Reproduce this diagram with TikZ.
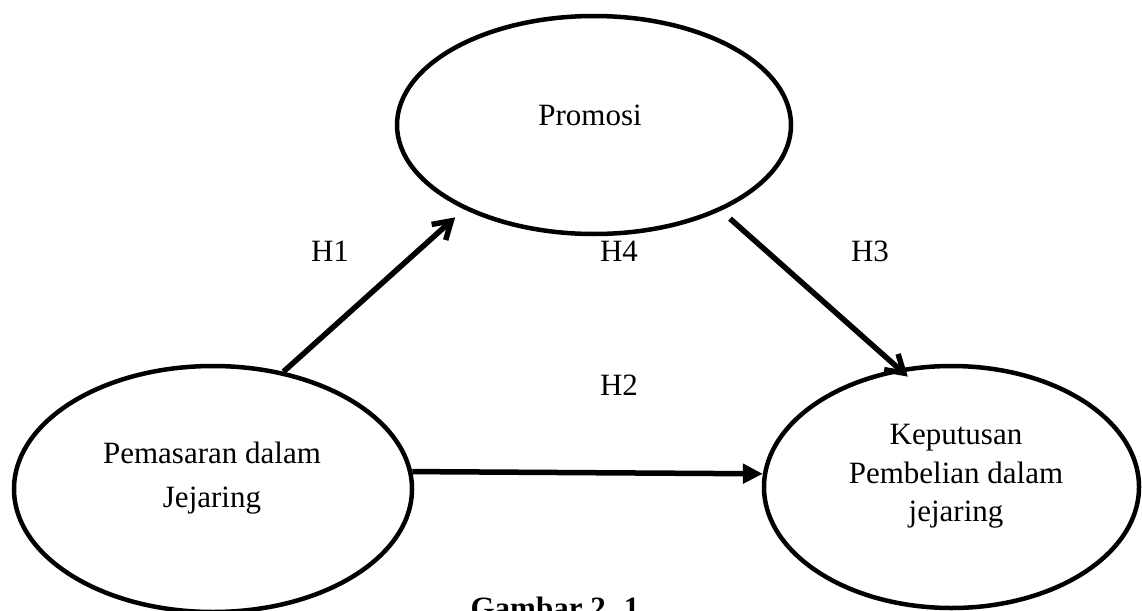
\documentclass[tikz,border=0pt]{standalone}
\usepackage{fontspec}
\setmainfont{Liberation Serif}
\usetikzlibrary{arrows.meta,shapes.geometric}

\begin{document}
\begin{tikzpicture}[x=1pt,y=-1pt]
\tikzstyle{every node}+=[inner sep=0pt]
\tikzstyle{elips}=[draw=black,ellipse,line width=4.5pt]
\tikzstyle{teks}=[align=center]
\tikzstyle{panah}=[draw=black,line width=5.5pt]
\tikzstyle{barb}=[-{Straight Barb[length=17pt,width=21pt]}]
\tikzstyle{segitiga}=[-{Triangle[length=20pt,width=19pt]}]
\path [use as bounding box,clip] (0,0) rectangle (1142,610);

% Ellipses
\node [elips,minimum width=394pt,minimum height=218pt] (promosi) at (594,125) {};
\node [elips,minimum width=398pt,minimum height=246pt] (pemasaran) at (213,489) {};
\node [elips,minimum width=375pt,minimum height=242pt] (keputusan) at (951.5,487) {};

% Texts in ellipses
\node [teks,font=\fontsize{31}{36}\selectfont] (promosiTxt) at (590,115) {Promosi};
\node [teks,font=\fontsize{31}{44}\selectfont] (pemasaranTxt) at (212,478)
{Pemasaran dalam\\Jejaring};
\node [teks,font=\fontsize{31}{38.5}\selectfont] (keputusanTxt) at (956,476.5)
{Keputusan\\Pembelian dalam\\jejaring};

% H1 + H3 arrows
\draw [panah,barb,shorten >=12pt] (pemasaran.59) -- (promosi.213);
\draw [panah,barb,shorten <=12pt,shorten >=-12pt] (promosi.-34.7) -- (keputusan.114.8);

% H2 arrow
\draw [panah,segitiga] (pemasaran.5.8) -- (keputusan.176);

% Labels
\node [font=\fontsize{31}{36}\selectfont,anchor=base] (h1) at (330,261) {H1};
\node [font=\fontsize{31}{36}\selectfont,anchor=base] (h4) at (619,261) {H4};
\node [font=\fontsize{31}{36}\selectfont,anchor=base] (h3) at (870,261) {H3};
\node [font=\fontsize{31}{36}\selectfont,anchor=base] (h2) at (619,395) {H2};

%\node at (555,640) {};
\node [font=\fontsize{31}{36}\selectfont\bfseries,anchor=base] (gambar) at (555,618) {Gambar 2. 1};
\end{tikzpicture}
\end{document}
